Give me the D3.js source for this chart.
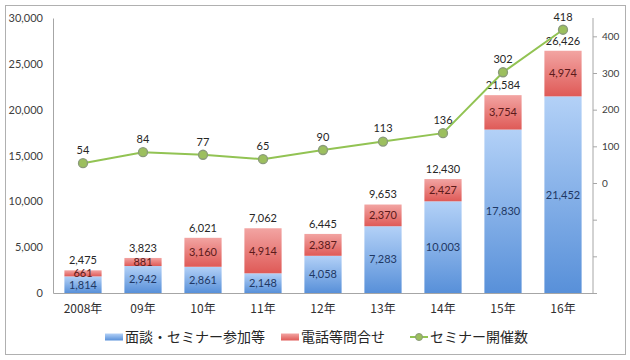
<!DOCTYPE html>
<html><head><meta charset="utf-8">
<script src="https://cdn.jsdelivr.net/npm/d3@7"></script>
<style>
html,body{margin:0;padding:0;background:#fff;}
svg{display:block;}
</style></head>
<body>
<svg id="c" width="630" height="360"></svg>
<script>
const categories = ["2008年","09年","10年","11年","12年","13年","14年","15年","16年"];
const seminarAttend = [1814, 2942, 2861, 2148, 4058, 7283, 10003, 17830, 21452];
const phoneInquiry = [661, 881, 3160, 4914, 2387, 2370, 2427, 3754, 4974];
const totals = [2475, 3823, 6021, 7062, 6445, 9653, 12430, 21584, 26426];
const seminarCount = [54, 84, 77, 65, 90, 113, 136, 302, 418];
const leftTicks = [0, 5000, 10000, 15000, 20000, 25000, 30000];
const rightTicks = [-300, -200, -100, 0, 100, 200, 300, 400];
const seriesNames = ["面談・セミナー参加等", "電話等問合せ", "セミナー開催数"];

(function(){
const svg = d3.select("#c");
const numFont = "Lato, 'Open Sans', sans-serif";
const jpFont = "'Noto Sans CJK JP', sans-serif";

// frame
svg.append("rect").attr("x",5.5).attr("y",5.5).attr("width",620).attr("height",349)
  .attr("fill","#fff").attr("stroke","#b0b0b0").attr("stroke-width",1);

const pL = 53, pR = 593, pT = 18, pB = 293;
const x = d3.scaleBand().domain(categories).range([pL, pR]).paddingInner(0.38).paddingOuter(0.19);
const y = d3.scaleLinear().domain([0, 30000]).range([pB, pT]);
const y2 = d3.scaleLinear().domain([-300, 450]).range([pB, pT]);

const defs = svg.append("defs");
function grad(id, c1, c2){
  const g = defs.append("linearGradient").attr("id", id).attr("x1",0).attr("y1",0).attr("x2",0).attr("y2",1);
  g.append("stop").attr("offset","0%").attr("stop-color",c1);
  g.append("stop").attr("offset","100%").attr("stop-color",c2);
}
grad("gb", "#b3d1f7", "#5890d9");
grad("gr", "#f2a4a2", "#df5a57");

// axes
const axL = d3.axisLeft(y).tickValues(leftTicks).tickSize(0).tickPadding(10).tickFormat(d3.format(","));
const gL = svg.append("g").attr("transform",`translate(${pL},0)`).call(axL);
gL.select(".domain").attr("stroke","#a6a6a6");
gL.selectAll("text").attr("font-family",numFont).attr("font-size",11).attr("fill","#404040");

const axR = d3.axisRight(y2).tickValues(rightTicks).tickSize(4).tickPadding(5)
  .tickFormat(d => d >= 0 ? d3.format(",")(d) : "");
const gR = svg.append("g").attr("transform",`translate(${pR},0)`).call(axR);
gR.select(".domain").attr("stroke","#a6a6a6").attr("d",`M0,${pT}V${pB}`);
gR.selectAll("line").attr("stroke","#a6a6a6");
gR.selectAll("text").attr("font-family",numFont).attr("font-size",10).attr("fill","#404040");

const axB = d3.axisBottom(x).tickSize(0).tickPadding(11);
const gB = svg.append("g").attr("transform",`translate(0,${pB})`).call(axB);
gB.select(".domain").attr("stroke","#a6a6a6");
gB.selectAll("text").attr("font-family",jpFont).attr("font-size",12).attr("fill","#303030");

// bars
const bw = x.bandwidth();
const g = svg.append("g");
categories.forEach((c, i) => {
  const b = seminarAttend[i], r = phoneInquiry[i];
  g.append("rect").attr("x", x(c)).attr("y", y(b)).attr("width", bw).attr("height", y(0)-y(b)).attr("fill","url(#gb)");
  g.append("rect").attr("x", x(c)).attr("y", y(b+r)).attr("width", bw).attr("height", y(b)-y(b+r)).attr("fill","url(#gr)");
  const cx = x(c) + bw/2;
  g.append("text").attr("x",cx).attr("y",(y(0)+y(b))/2).attr("dy","0.35em").attr("text-anchor","middle")
    .attr("font-family",numFont).attr("font-size",11).attr("fill","#1f3864").text(d3.format(",")(b));
  g.append("text").attr("x",cx).attr("y",(y(b)+y(b+r))/2).attr("dy","0.35em").attr("text-anchor","middle")
    .attr("font-family",numFont).attr("font-size",11).attr("fill","#5c1a1a").text(d3.format(",")(r));
  g.append("text").attr("x",cx).attr("y",y(totals[i]) - 10).attr("dy","0.35em").attr("text-anchor","middle")
    .attr("font-family",numFont).attr("font-size",11).attr("fill","#262626").text(d3.format(",")(totals[i]));
});

// line
const line = d3.line().x((d,i)=>x(categories[i])+bw/2).y(d=>y2(d));
svg.append("path").datum(seminarCount).attr("d",line).attr("fill","none").attr("stroke","#92c353").attr("stroke-width",2);
svg.selectAll("circle.pt").data(seminarCount).enter().append("circle").attr("class","pt")
  .attr("cx",(d,i)=>x(categories[i])+bw/2).attr("cy",d=>y2(d)).attr("r",4.5)
  .attr("fill","#9cbf5e").attr("stroke","#8a9a7a").attr("stroke-width",1.3);
svg.selectAll("text.pl").data(seminarCount).enter().append("text").attr("class","pl")
  .attr("x",(d,i)=>x(categories[i])+bw/2).attr("y",d=>y2(d)-13).attr("dy","0.35em").attr("text-anchor","middle")
  .attr("font-family",numFont).attr("font-size",11).attr("fill","#262626").text(d=>d);

// legend
const ly = 337;
const lg = svg.append("g");
lg.append("rect").attr("x",105).attr("y",ly-3.5).attr("width",18).attr("height",7).attr("fill","url(#gb)");
lg.append("text").attr("x",125).attr("y",ly).attr("dy","0.35em").attr("font-family",jpFont).attr("font-size",14).attr("fill","#262626").text(seriesNames[0]);
lg.append("rect").attr("x",281).attr("y",ly-3.5).attr("width",18).attr("height",7).attr("fill","url(#gr)");
lg.append("text").attr("x",301).attr("y",ly).attr("dy","0.35em").attr("font-family",jpFont).attr("font-size",14).attr("fill","#262626").text(seriesNames[1]);
lg.append("line").attr("x1",410).attr("x2",428).attr("y1",ly).attr("y2",ly).attr("stroke","#92c353").attr("stroke-width",2);
lg.append("circle").attr("cx",419).attr("cy",ly).attr("r",3.5).attr("fill","#9cbf5e").attr("stroke","#8a9a7a").attr("stroke-width",1);
lg.append("text").attr("x",430).attr("y",ly).attr("dy","0.35em").attr("font-family",jpFont).attr("font-size",14).attr("fill","#262626").text(seriesNames[2]);
})();
</script>
</body></html>
